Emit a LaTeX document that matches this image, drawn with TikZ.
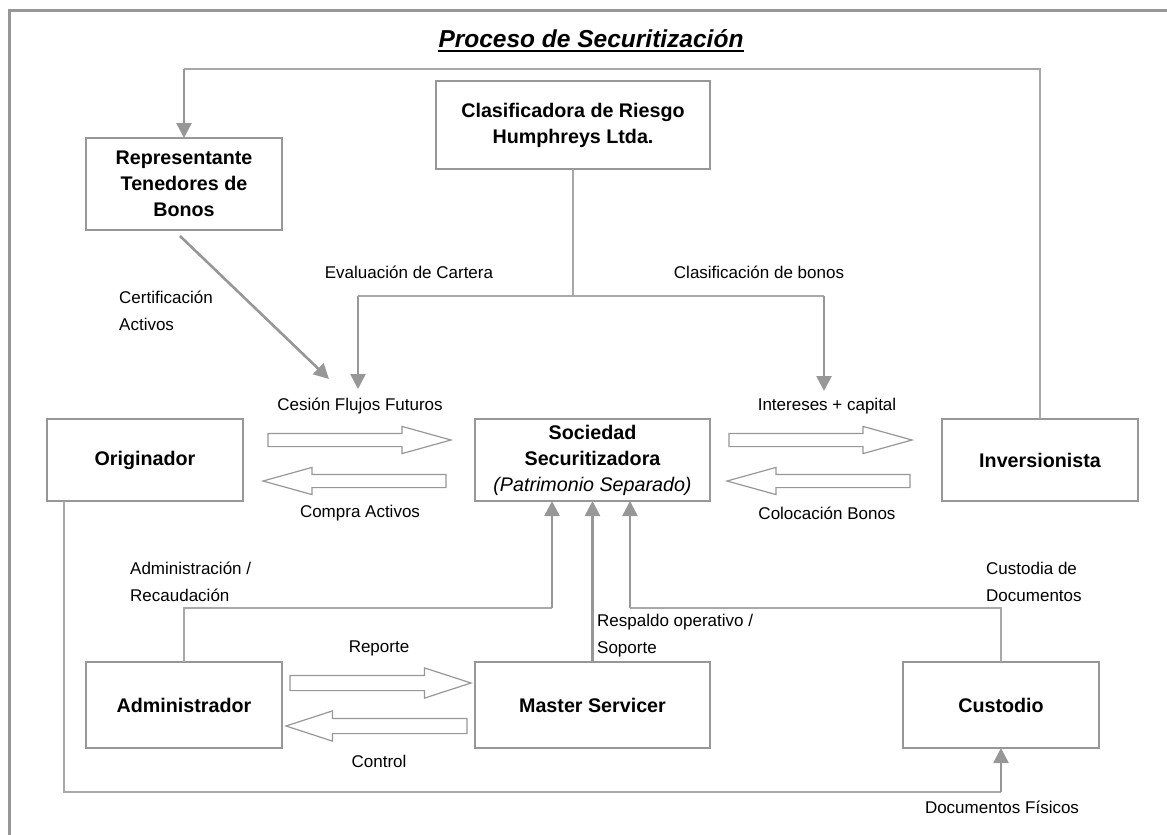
\documentclass[tikz,border=0pt]{standalone}
\usepackage{fontspec}
\setmainfont{Liberation Sans}
\usetikzlibrary{arrows.meta, positioning, shapes.arrows}

\definecolor{boxgray}{HTML}{979797}
\definecolor{linegray}{HTML}{A8A8A8}

\begin{document}
\begin{tikzpicture}[x=1pt, y=-1pt,
	entity/.style = {draw=boxgray, line width=2.8pt, align=center,
		inner sep=0pt, outer sep=0pt, minimum width=196pt, minimum height=86pt,
		font=\fontsize{19.7}{26}\selectfont\bfseries},
	wide/.style = {minimum width=235pt},
	tag/.style = {inner sep=0pt, font=\fontsize{17}{27}\selectfont},
	link/.style = {draw=linegray, line width=1.6pt},
	flow/.style = {draw=boxgray, line width=2.6pt, -{Triangle[length=15pt, width=15pt]}},
	transfer/.style = {single arrow, draw=boxgray, line width=1.2pt, anchor=tail,
		inner xsep=0pt, inner ysep=6pt, outer sep=0pt, minimum height=183pt, minimum width=26pt,
		single arrow head extend=7pt, single arrow tip angle=31},
	broad/.style = {minimum height=181pt, minimum width=29pt, inner ysep=7pt,
		single arrow head extend=7.5pt, single arrow tip angle=36},
	back/.style = {shape border rotate=180},
]
	\useasboundingbox (0,0) rectangle (1167,835);
	\draw [draw=boxgray, line width=3pt] (9,835) -- (9,10) -- (1167,10);

	\node (title) [inner sep=0pt, anchor=base,
		font=\fontsize{24.5}{29}\selectfont\bfseries\itshape] at (591,47) {Proceso de Securitización};
	\draw [line width=2.2pt] ([yshift=-4pt]title.base west) -- ([yshift=-4pt]title.base east);

	\node (soc) [entity, wide, minimum height=82pt] at (592.5,460)
		{Sociedad\\Securitizadora\\{\mdseries\itshape (Patrimonio Separado)}};
	\node (orig) [entity, minimum height=82pt, left = 232pt of soc] {Originador};
	\node (inv) [entity, minimum height=82pt, right = 232pt of soc] {Inversionista};
	\node (mast) [entity, wide, below = 161pt of soc] {Master Servicer};
	\node (adm) [entity, left = 193pt of mast] {Administrador};
	\node (cust) [entity, right = 193pt of mast] {Custodio};
	\node (rep) [entity, minimum height=92pt] at (184,184) {Representante\\Tenedores de\\Bonos};
	\node (clas) [entity, minimum width=274pt, minimum height=88pt] at (573,125)
		{Clasificadora de Riesgo\\Humphreys Ltda.};

	\coordinate (top) at (0,69);
	\coordinate (split) at (0,296);
	\coordinate (rail) at (0,608);
	\coordinate (bottom) at (0,792);
	\coordinate (cartera) at (358,389);
	\coordinate (bonos) at (824,391);
	\coordinate (activos) at (329,379);
	\coordinate (admin in) at ([xshift=-40.5pt]soc.south);
	\coordinate (custody in) at ([xshift=37.5pt]soc.south);
	\coordinate (paper out) at ([xshift=-81pt]orig.south);

	\draw [link] (inv.north) |- (rep.north |- top);
	\draw [flow] (rep.north |- top) -- (rep.north);
	\draw [link] (clas.south) -- (clas.south |- split);
	\draw [link] (cartera |- split) -- (bonos |- split);
	\draw [flow] (cartera |- split) -- (cartera);
	\draw [flow] (bonos |- split) -- (bonos);
	\draw [flow] ([xshift=-4pt, yshift=-6pt]rep.south) -- (activos);
	\draw [link] (adm.north) |- (admin in |- rail);
	\draw [flow] (admin in |- rail) -- (admin in);
	\draw [flow] (mast.north) -- (soc.south);
	\draw [link] (cust.north) |- (custody in |- rail);
	\draw [flow] (custody in |- rail) -- (custody in);
	\draw [link] (paper out) |- (cust.south |- bottom);
	\draw [flow] (cust.south |- bottom) -- (cust.south);

	\node (cesion) [transfer] at (268,440) {};
	\node (compra) [transfer, back] at (446,481) {};
	\node (intereses) [transfer] at (729,440) {};
	\node (colocacion) [transfer, back] at (910,481) {};
	\node (reporte) [transfer, broad] at (290,683) {};
	\node (control) [transfer, broad, back] at (467,726) {};

	\node (eval label) [tag] at (409,272) {Evaluación de Cartera};
	\node (class label) [tag] at (759,272) {Clasificación de bonos};
	\node (cert label) [tag, align=left, anchor=west] at (119,310.5) {Certificación\\Activos};
	\node (cesion label) [tag] at (360,406) {Cesión Flujos Futuros};
	\node (compra label) [tag] at (360,513) {Compra Activos};
	\node (interest label) [tag] at (827,406) {Intereses + capital};
	\node (placement label) [tag] at (827,513) {Colocación Bonos};
	\node (admin label) [tag, align=left, anchor=west] at (130,581.5) {Administración /\\Recaudación};
	\node (custody label) [tag, align=left, anchor=west] at (986,581.5) {Custodia de\\Documentos};
	\node (support label) [tag, align=left, anchor=west] at (597,635.5) {Respaldo operativo /\\Soporte};
	\node (report label) [tag] at (379,648) {Reporte};
	\node (control label) [tag] at (379,761) {Control};
	\node (docs label) [tag] at (1002,807) {Documentos Físicos};
\end{tikzpicture}
\end{document}
